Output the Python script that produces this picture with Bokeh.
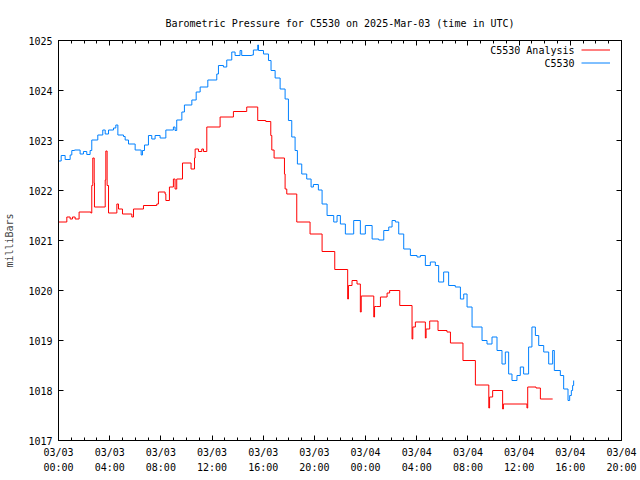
from bokeh.plotting import figure
from bokeh.models import LinearAxis, FixedTicker, Range1d, Label, Legend, LegendItem
from bokeh.core.properties import value
from bokeh.embed import file_html
from bokeh.resources import INLINE

# Times are hours since 2025-03-03 00:00 UTC
obs_hours = [0.00, 0.21, 0.52, 0.91, 1.04, 1.25, 1.69, 1.95, 2.21, 2.47, 2.60, 3.07, 3.46, 3.65, 3.91,
             4.30, 4.48, 4.64, 5.08, 5.21, 5.47, 5.99, 6.46, 6.56, 6.72, 7.03, 7.29, 7.55, 7.94, 8.39,
             8.98, 9.11, 9.24, 9.64, 9.84, 10.42, 10.76, 11.07, 11.67, 12.37, 12.50, 12.89, 13.15,
             13.54, 13.80, 14.19, 14.32, 15.10, 15.23, 15.57, 15.63, 16.02, 16.41, 16.61, 16.93,
             17.32, 17.71, 17.97, 18.23, 18.49, 18.67, 19.01, 19.40, 19.74, 19.92, 20.31, 20.60,
             20.99, 21.51, 21.77, 22.03, 22.42, 23.07, 23.59, 23.98, 24.51, 25.03, 25.42, 25.81,
             26.07, 26.33, 26.59, 26.98, 27.50, 28.02, 28.28, 28.67, 29.06, 29.45, 29.71, 30.10,
             30.49, 31.01, 31.41, 31.67, 31.93, 32.32, 32.71, 33.10, 33.49, 33.88, 34.27, 34.66,
             34.92, 35.18, 35.44, 35.83, 36.09, 36.35, 36.74, 37.00, 37.27, 37.53, 37.92, 38.31,
             38.62, 38.75, 39.22, 39.48, 39.82, 39.95, 40.08, 40.18, 40.26]
obs_mb = [1022.59, 1022.70, 1022.62, 1022.71, 1022.80, 1022.81, 1022.73, 1022.78, 1022.72, 1022.80,
          1023.01, 1023.11, 1023.21, 1023.13, 1023.21, 1023.25, 1023.31, 1023.11, 1023.08, 1023.01,
          1022.93, 1022.81, 1022.71, 1022.80, 1022.91, 1023.10, 1023.03, 1023.10, 1023.05, 1023.21,
          1023.27, 1023.20, 1023.41, 1023.57, 1023.71, 1023.81, 1023.97, 1024.07, 1024.21, 1024.33,
          1024.50, 1024.47, 1024.61, 1024.77, 1024.70, 1024.80, 1024.70, 1024.71, 1024.81, 1024.91,
          1024.80, 1024.73, 1024.60, 1024.40, 1024.25, 1024.03, 1023.83, 1023.40, 1023.07, 1022.80,
          1022.53, 1022.33, 1022.23, 1022.07, 1022.12, 1022.01, 1021.73, 1021.50, 1021.37, 1021.50,
          1021.33, 1021.13, 1021.40, 1021.13, 1021.30, 1021.03, 1021.01, 1021.20, 1021.27, 1021.40,
          1021.37, 1021.13, 1020.83, 1020.70, 1020.67, 1020.70, 1020.50, 1020.57, 1020.50, 1020.17,
          1020.37, 1020.10, 1020.07, 1019.83, 1019.93, 1019.67, 1019.27, 1019.27, 1019.00, 1018.93,
          1019.07, 1018.80, 1018.53, 1018.77, 1018.33, 1018.20, 1018.30, 1018.47, 1018.33, 1018.87,
          1019.27, 1019.10, 1018.90, 1018.77, 1018.53, 1018.80, 1018.40, 1018.30, 1018.03, 1017.80,
          1017.90, 1018.00, 1018.10, 1018.20]

ana_hours = [0.00, 0.65, 0.91, 1.09, 1.30, 1.61, 2.53, 2.60, 2.68, 2.79, 2.81, 3.65, 3.70, 3.80,
             3.91, 4.56, 4.69, 5.00, 5.73, 5.86, 6.64, 7.68, 7.81, 8.33, 8.39, 8.67, 8.98, 9.11,
             9.24, 9.69, 10.36, 10.63, 10.68, 10.94, 11.20, 11.33, 11.59, 12.63, 13.67, 14.71,
             15.57, 16.20, 16.59, 16.67, 16.85, 17.66, 17.71, 17.84, 18.62, 19.66, 20.60, 21.59,
             22.60, 22.66, 22.94, 23.33, 23.59, 23.66, 24.64, 24.70, 24.84, 25.16, 25.68, 25.88,
             26.67, 27.63, 27.69, 27.89, 28.67, 28.73, 29.01, 29.66, 30.36, 30.63, 31.61, 32.58,
             33.63, 33.69, 33.93, 34.71, 34.77, 36.61, 36.67, 37.32, 37.66, 38.62]
ana_mb = [1021.37, 1021.47, 1021.43, 1021.47, 1021.43, 1021.57, 1021.55, 1022.10, 1022.65, 1022.15,
          1021.67, 1022.21, 1022.79, 1022.10, 1021.55, 1021.73, 1021.63, 1021.53, 1021.47, 1021.63,
          1021.70, 1021.73, 1021.97, 1021.93, 1021.80, 1022.07, 1022.23, 1022.03, 1022.23, 1022.55,
          1022.43, 1022.65, 1022.83, 1022.78, 1022.83, 1022.78, 1023.27, 1023.47, 1023.58, 1023.67,
          1023.40, 1023.38, 1023.10, 1022.81, 1022.65, 1022.33, 1022.03, 1021.93, 1021.37, 1021.13,
          1020.78, 1020.42, 1019.83, 1020.10, 1020.20, 1020.13, 1019.57, 1019.89, 1019.47, 1019.68,
          1019.68, 1019.87, 1019.95, 1020.00, 1019.70, 1019.03, 1019.27, 1019.37, 1019.05, 1019.23,
          1019.39, 1019.20, 1019.17, 1018.95, 1018.60, 1018.11, 1017.65, 1017.87, 1018.00, 1017.63,
          1017.73, 1017.65, 1018.07, 1018.05, 1017.83, 1017.83]

x_tick_hours = [0, 4, 8, 12, 16, 20, 24, 28, 32, 36, 40, 44]
x_tick_labels = ["03/03\n00:00", "03/03\n04:00", "03/03\n08:00", "03/03\n12:00", "03/03\n16:00",
                 "03/03\n20:00", "03/04\n00:00", "03/04\n04:00", "03/04\n08:00", "03/04\n12:00",
                 "03/04\n16:00", "03/04\n20:00"]
x_minor_hours = list(range(0, 45))
y_ticks = [1017, 1018, 1019, 1020, 1021, 1022, 1023, 1024, 1025]

series_names = ["C5530 Analysis", "C5530"]
series_colors = ["#ff0000", "#0080ff"]
title_text = "Barometric Pressure for C5530 on 2025-Mar-03 (time in UTC)"
y_label = "milliBars"

FONT = "DejaVu Sans Mono"
FS = "10px"

p = figure(width=640, height=480, output_backend="svg", toolbar_location=None,
           x_range=Range1d(0, 44), y_range=Range1d(1017, 1025),
           min_border_left=58, min_border_right=19, min_border_top=40, min_border_bottom=40,
           x_axis_type=None, y_axis_type=None, title=title_text)
p.title.align = "center"
p.title.text_font = FONT
p.title.text_font_size = FS
p.title.text_font_style = "normal"
p.title.text_color = "black"
p.title.standoff = 24
p.xgrid.visible = False
p.ygrid.visible = False
p.outline_line_color = "black"
p.outline_line_width = 1
p.background_fill_color = "white"
p.border_fill_color = "white"

xt = FixedTicker(ticks=x_tick_hours, minor_ticks=x_minor_hours)
yt = FixedTicker(ticks=y_ticks, minor_ticks=[])


def style_axis(ax, show_labels):
    ax.axis_line_color = "black"
    ax.major_tick_in = 5
    ax.major_tick_out = 0
    ax.minor_tick_in = 3
    ax.minor_tick_out = 0
    ax.major_tick_line_color = "black"
    ax.minor_tick_line_color = "black"
    ax.major_label_text_font = FONT
    ax.major_label_text_font_size = FS
    ax.major_label_text_color = "black" if show_labels else None


xb = LinearAxis(ticker=xt, major_label_overrides={h: l for h, l in zip(x_tick_hours, x_tick_labels)})
style_axis(xb, True)
xb.major_label_standoff = 6
xb.major_label_text_line_height = 1.4
p.add_layout(xb, "below")

xa = LinearAxis(ticker=xt, major_label_overrides={h: "" for h in x_tick_hours})
style_axis(xa, False)
xa.major_label_standoff = 0
p.add_layout(xa, "above")

yl = LinearAxis(ticker=yt, axis_label=y_label)
style_axis(yl, True)
yl.major_label_standoff = 6
yl.axis_label_text_font = FONT
yl.axis_label_text_font_size = FS
yl.axis_label_text_font_style = "normal"
yl.axis_label_standoff = 10
p.add_layout(yl, "left")

yr = LinearAxis(ticker=yt, major_label_overrides={t: "" for t in y_ticks})
style_axis(yr, False)
yr.major_label_standoff = 0
p.add_layout(yr, "right")

r_ana = p.step(ana_hours, ana_mb, mode="after", line_color=series_colors[0], line_width=1)
r_obs = p.step(obs_hours, obs_mb, mode="after", line_color=series_colors[1], line_width=1)

legend = Legend(items=[LegendItem(label=value(""), renderers=[r_ana]),
                       LegendItem(label=value(""), renderers=[r_obs])],
                location="top_right", margin=3, padding=0, spacing=0,
                glyph_width=29, glyph_height=13, label_width=0, label_height=13,
                label_standoff=8, label_text_font_size=FS, label_text_color=None,
                border_line_color=None, background_fill_alpha=0)
p.add_layout(legend)

for i, name in enumerate(series_names):
    p.add_layout(Label(x=516, y=390.5 - 13 * i, x_units="screen", y_units="screen", text=name,
                       text_align="right", text_baseline="middle", text_font=FONT,
                       text_font_size=FS, text_color="black"))

open("out.html", "w").write(file_html(p, INLINE))
